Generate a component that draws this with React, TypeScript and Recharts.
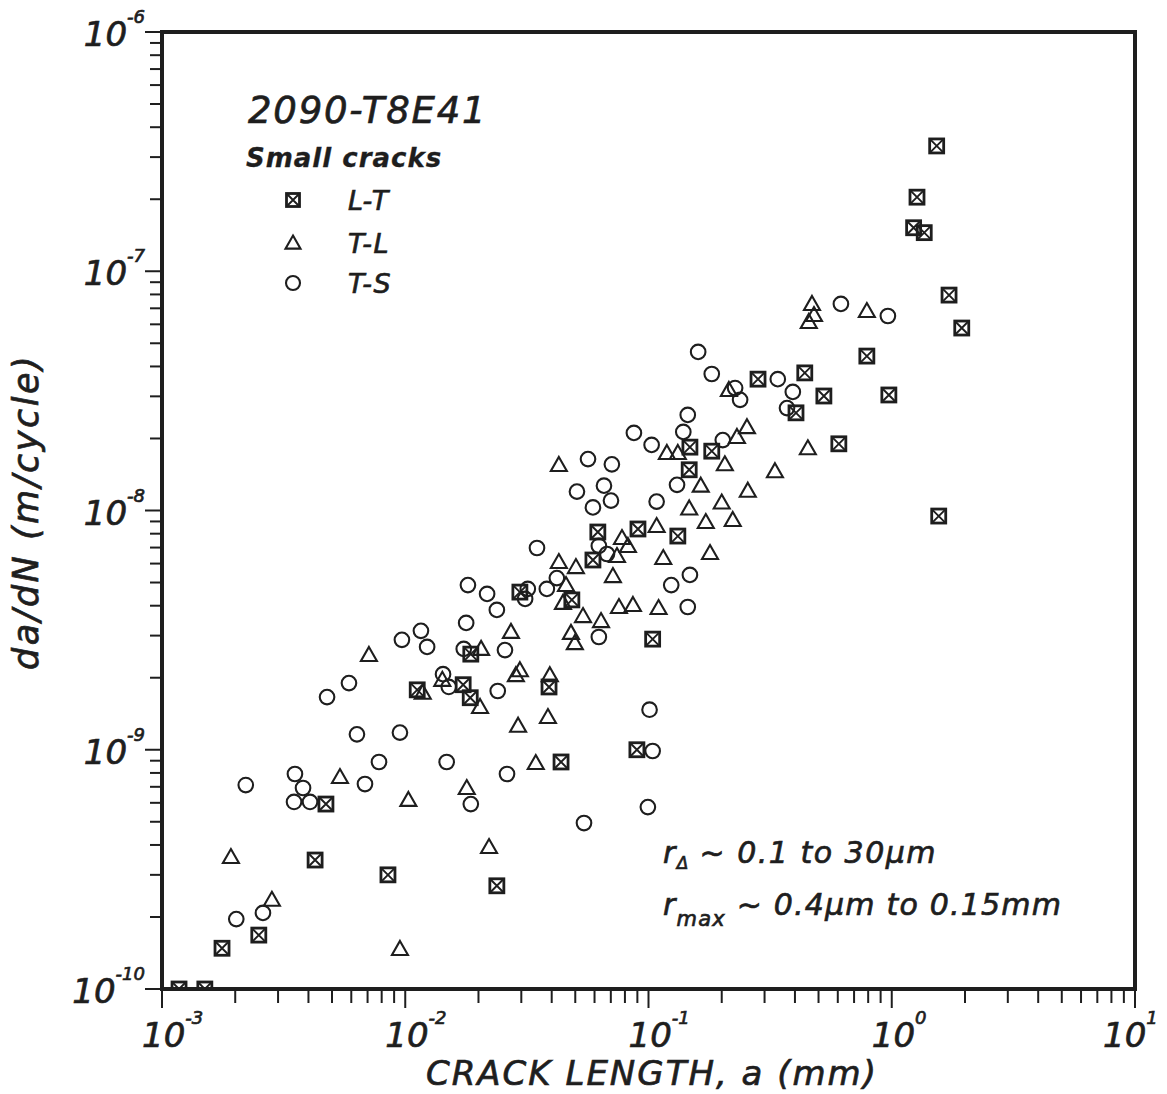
import React from 'react';
import { ScatterChart, Scatter, XAxis, YAxis, ReferenceArea, Legend } from 'recharts';

const INK = '#1e1e1e';
const FONT = '"DejaVu Sans", "Liberation Sans", sans-serif';
const TXT = { fontFamily: FONT, fontStyle: 'italic', fill: INK, stroke: INK, strokeWidth: 0.7 } as const;

// ---- L-T (squares with X) ----
const ltX = [
  1.175e-3, 1.5e-3, 1.765e-3, 2.5e-3, 4.26e-3, 8.49e-3, 4.72e-3, 2.38e-2,
  1.86e-2, 1.12e-2, 1.73e-2, 1.85e-2, 3.9e-2, 4.37e-2, 2.96e-2, 4.84e-2,
  6.19e-2, 5.91e-2, 9.05e-2, 0.132, 0.104, 8.96e-2, 0.148, 0.182, 0.147,
  0.282, 0.439, 0.526, 0.404, 0.606, 0.79, 0.973, 1.53, 1.27, 1.23, 1.36,
  1.72, 1.94, 1.56,
];
const ltY = [
  1.0e-10, 1.0e-10, 1.48e-10, 1.68e-10, 3.46e-10, 3.0e-10, 5.93e-10, 2.7e-10,
  2.51e-9, 1.78e-9, 1.87e-9, 1.65e-9, 1.83e-9, 8.89e-10, 4.56e-9, 4.23e-9,
  8.13e-9, 6.21e-9, 8.37e-9, 7.82e-9, 2.9e-9, 1.0e-9, 1.84e-8, 1.77e-8, 1.48e-8,
  3.54e-8, 3.76e-8, 3.01e-8, 2.56e-8, 1.9e-8, 4.42e-8, 3.04e-8, 3.34e-7, 2.04e-7, 1.52e-7, 1.45e-7,
  7.95e-8, 5.79e-8, 9.48e-9,
];

// ---- T-L (triangles) ----
const tlX = [
  7.09e-3, 2.05e-2, 2.72e-2, 1.42e-2, 1.18e-2, 2.03e-2, 2.96e-2, 2.85e-2, 3.93e-2, 2.91e-2,
  3.86e-2, 3.44e-2, 5.39e-3, 1.03e-2, 1.79e-2, 2.21e-2, 1.92e-3, 2.83e-3, 9.51e-3, 0.214,
  0.254, 0.231, 0.119, 0.132, 0.206, 0.164, 0.256, 4.28e-2, 0.2, 0.147,
  0.172, 0.222, 7.78e-2, 8.23e-2, 7.42e-2, 0.108, 0.115, 0.179, 4.28e-2, 5.03e-2,
  7.14e-2, 4.58e-2, 4.45e-2, 5.38e-2, 6.38e-2, 7.56e-2, 8.63e-2, 0.11, 4.8e-2, 4.98e-2,
  0.47, 0.479, 0.456, 0.79, 0.452, 0.331,
];
const tlY = [
  2.49e-9, 2.64e-9, 3.11e-9, 1.96e-9, 1.73e-9, 1.51e-9, 2.15e-9, 2.05e-9, 2.05e-9, 1.26e-9,
  1.37e-9, 8.8e-10, 7.69e-10, 6.17e-10, 6.92e-10, 3.92e-10, 3.56e-10, 2.36e-10, 1.47e-10, 3.19e-8,
  2.23e-8, 2.03e-8, 1.74e-8, 1.74e-8, 1.56e-8, 1.27e-8, 1.21e-8, 1.55e-8, 1.08e-8, 1.02e-8,
  8.95e-9, 9.13e-9, 7.67e-9, 7.11e-9, 6.45e-9, 8.61e-9, 6.33e-9, 6.64e-9, 6.09e-9, 5.8e-9,
  5.32e-9, 4.88e-9, 4.11e-9, 3.62e-9, 3.45e-9, 3.95e-9, 4.03e-9, 3.91e-9, 3.08e-9, 2.79e-9,
  7.3e-8, 6.56e-8, 6.14e-8, 6.82e-8, 1.82e-8, 1.46e-8,
];

// ---- T-S (circles) ----
const tsX = [
  2.38e-2, 1.78e-2, 1.16e-2, 9.69e-3, 1.23e-2, 1.74e-2, 2.57e-2, 5.87e-3, 4.77e-3, 1.43e-2,
  1.51e-2, 2.4e-2, 6.33e-3, 9.51e-3, 7.8e-3, 1.48e-2, 2.62e-2, 2.21e-3, 3.52e-3, 3.8e-3,
  3.49e-3, 4.06e-3, 6.83e-3, 1.86e-2, 2.02e-3, 2.6e-3, 0.16, 0.182, 0.227, 0.238,
  0.145, 0.139, 8.71e-2, 0.103, 0.202, 5.64e-2, 7.07e-2, 5.08e-2, 6.56e-2, 7.01e-2,
  5.91e-2, 0.131, 0.108, 6.25e-2, 6.75e-2, 3.48e-2, 4.2e-2, 3.82e-2, 3.19e-2, 3.11e-2,
  1.81e-2, 2.17e-2, 0.148, 0.124, 0.145, 6.25e-2, 0.618, 0.964, 0.34, 0.392,
  0.371, 0.101, 0.104, 9.94e-2, 5.43e-2,
];
const tsY = [
  3.84e-9, 3.39e-9, 3.14e-9, 2.88e-9, 2.69e-9, 2.64e-9, 2.61e-9, 1.9e-9, 1.66e-9, 2.07e-9,
  1.83e-9, 1.76e-9, 1.16e-9, 1.18e-9, 8.89e-10, 8.89e-10, 7.92e-10, 7.12e-10, 7.92e-10, 6.92e-10,
  6.05e-10, 6.05e-10, 7.19e-10, 5.93e-10, 1.96e-10, 2.08e-10, 4.6e-8, 3.72e-8, 3.25e-8, 2.9e-8,
  2.51e-8, 2.13e-8, 2.11e-8, 1.88e-8, 1.97e-8, 1.64e-8, 1.56e-8, 1.2e-8, 1.27e-8, 1.1e-8,
  1.03e-8, 1.28e-8, 1.09e-8, 7.11e-9, 6.58e-9, 6.97e-9, 5.22e-9, 4.7e-9, 4.7e-9, 4.27e-9,
  4.88e-9, 4.48e-9, 5.38e-9, 4.88e-9, 3.95e-9, 2.96e-9, 7.3e-8, 6.5e-8, 3.54e-8, 3.13e-8,
  2.68e-8, 1.47e-9, 9.88e-10, 5.76e-10, 4.94e-10,
];

const seriesNames = ['L-T', 'T-L', 'T-S'];
const xDecadeExps = [-3, -2, -1, 0, 1];
const yDecadeExps = [-10, -9, -8, -7, -6];
const minorMantissas = [2, 3, 4, 5, 6, 7, 8, 9];

const toPoints = (xs: number[], ys: number[]) => xs.map((x, i) => ({ x, y: ys[i] }));
const ltData = toPoints(ltX, ltY);
const tlData = toPoints(tlX, tlY);
const tsData = toPoints(tsX, tsY);

const buildTicks = (exps: number[]) => {
  const t: number[] = [];
  exps.forEach((e, i) => {
    t.push(Math.pow(10, e));
    if (i < exps.length - 1) minorMantissas.forEach((m) => t.push(m * Math.pow(10, e)));
  });
  return t;
};
const xTicks = buildTicks(xDecadeExps);
const yTicks = buildTicks(yDecadeExps);

const isMajor = (v: number) => {
  const lg = Math.log10(v);
  return Math.abs(lg - Math.round(lg)) < 1e-6;
};
const expStr = (v: number) => String(Math.round(Math.log10(v)));

const W = 1167;
const H = 1094;

// ---- marker shapes ----
const SquareX = ({ cx, cy, s = 7 }: any) => (
  <g>
    <rect x={cx - s} y={cy - s} width={2 * s} height={2 * s} fill="none" stroke={INK} strokeWidth={2.8} />
    <path d={`M${cx - s} ${cy - s} L${cx + s} ${cy + s} M${cx + s} ${cy - s} L${cx - s} ${cy + s}`} stroke={INK} strokeWidth={1.9} />
  </g>
);
const Tri = ({ cx, cy, s = 8 }: any) => (
  <polygon
    points={`${cx},${cy - s} ${cx + s},${cy + s * 0.75} ${cx - s},${cy + s * 0.75}`}
    fill="none"
    stroke={INK}
    strokeWidth={2.1}
    strokeLinejoin="miter"
  />
);
const Circ = ({ cx, cy, r = 7.3 }: any) => <circle cx={cx} cy={cy} r={r} fill="none" stroke={INK} strokeWidth={2.1} />;

const squareShape = (p: any) => <SquareX cx={p.cx} cy={p.cy} />;
const triShape = (p: any) => <Tri cx={p.cx} cy={p.cy} />;
const circShape = (p: any) => <Circ cx={p.cx} cy={p.cy} />;

// ---- axis ticks ----
const XTick = (props: any) => {
  const { x, y, payload } = props;
  const v = payload.value;
  const major = isMajor(v);
  const start = Math.min(x - 20, W - 64);
  return (
    <g>
      <line x1={x} x2={x} y1={y} y2={y + (major ? 19 : 14)} stroke={INK} strokeWidth={2} />
      {major && (
        <text x={start} y={y + 58} textAnchor="start" fontSize={34} {...TXT}>
          10
          <tspan dy={-23} fontSize={18}>{expStr(v)}</tspan>
        </text>
      )}
    </g>
  );
};

const YTick = (props: any) => {
  const { x, y, payload } = props;
  const v = payload.value;
  const major = isMajor(v);
  return (
    <g>
      <line x1={x - (major ? 17 : 12)} x2={x} y1={y} y2={y} stroke={INK} strokeWidth={2} />
      {major && (
        <text x={x - 17} y={y + 14} textAnchor="end" fontSize={34} {...TXT}>
          10
          <tspan dy={-23} fontSize={18}>{expStr(v)}</tspan>
        </text>
      )}
    </g>
  );
};

// ---- legend ----
const legendRows = [120, 163, 203];
const renderLegend = (props: any) => {
  const payload = props.payload || [];
  return (
    <svg width={280} height={230} style={{ overflow: 'visible', display: 'block' }}>
      <text x={18} y={43} fontSize={37} letterSpacing={1.8} {...TXT}>
        2090-T8E41
      </text>
      <text x={16} y={87} fontWeight="bold" fontSize={26} letterSpacing={1} {...TXT} strokeWidth={0.3}>
        Small cracks
      </text>
      {payload.map((p: any, i: number) => {
        const cy = legendRows[i];
        const name = p.value;
        const marker =
          name === 'L-T' ? <SquareX cx={63} cy={cy} s={6.5} /> : name === 'T-L' ? <Tri cx={63} cy={cy} s={7.5} /> : <Circ cx={63} cy={cy} r={7} />;
        return (
          <g key={name}>
            {marker}
            <text x={118} y={cy + 10} fontSize={27} letterSpacing={1.5} {...TXT}>
              {name}
            </text>
          </g>
        );
      })}
    </svg>
  );
};

export default function App() {
  return (
    <div style={{ position: 'relative', width: W, height: H, margin: '-8px 0 0 -8px', background: '#fff', overflow: 'hidden' }}>
      <ScatterChart width={W} height={H} margin={{ top: 32, right: 32, left: 0, bottom: 0 }}>
        <XAxis
          type="number"
          dataKey="x"
          scale="log"
          domain={[1e-3, 10]}
          allowDataOverflow
          ticks={xTicks}
          interval={0}
          tick={<XTick />}
          tickLine={false}
          axisLine={false}
          tickSize={0}
          tickMargin={0}
          height={105}
        />
        <YAxis
          type="number"
          dataKey="y"
          scale="log"
          domain={[1e-10, 1e-6]}
          allowDataOverflow
          ticks={yTicks}
          interval={0}
          tick={<YTick />}
          tickLine={false}
          axisLine={false}
          tickSize={0}
          tickMargin={0}
          width={162}
        />
        <ReferenceArea x1={1e-3} x2={10} y1={1e-10} y2={1e-6} fill="none" stroke={INK} strokeWidth={4} ifOverflow="visible" />
        <Legend
          layout="vertical"
          align="center"
          verticalAlign="middle"
          content={renderLegend}
          wrapperStyle={{ left: 230, top: 80, width: 280, height: 230 }}
        />
        <Scatter name={seriesNames[0]} data={ltData} shape={squareShape} isAnimationActive={false} />
        <Scatter name={seriesNames[1]} data={tlData} shape={triShape} isAnimationActive={false} />
        <Scatter name={seriesNames[2]} data={tsData} shape={circShape} isAnimationActive={false} />
      </ScatterChart>
      <svg width={W} height={H} style={{ position: 'absolute', left: 0, top: 0, pointerEvents: 'none' }}>
        <text transform="translate(38,512) rotate(-90)" textAnchor="middle" fontSize={35} letterSpacing={2.5} {...TXT}>
          da/dN (m/cycle)
        </text>
        <text x={652} y={1085} textAnchor="middle" fontSize={34} letterSpacing={2} {...TXT}>
          CRACK LENGTH, a (mm)
        </text>
        <text x={663} y={863} fontSize={30} letterSpacing={1.5} {...TXT}>
          r
          <tspan fontSize={17} dy={6} letterSpacing={0}>Δ</tspan>
          <tspan fontSize={30} dy={-6}> ~ 0.1 to 30μm</tspan>
        </text>
        <text x={663} y={915} fontSize={30} letterSpacing={1.2} {...TXT}>
          r
          <tspan fontSize={21} dy={11}>max</tspan>
          <tspan fontSize={30} dy={-11}> ~ 0.4μm to 0.15mm</tspan>
        </text>
      </svg>
    </div>
  );
}
